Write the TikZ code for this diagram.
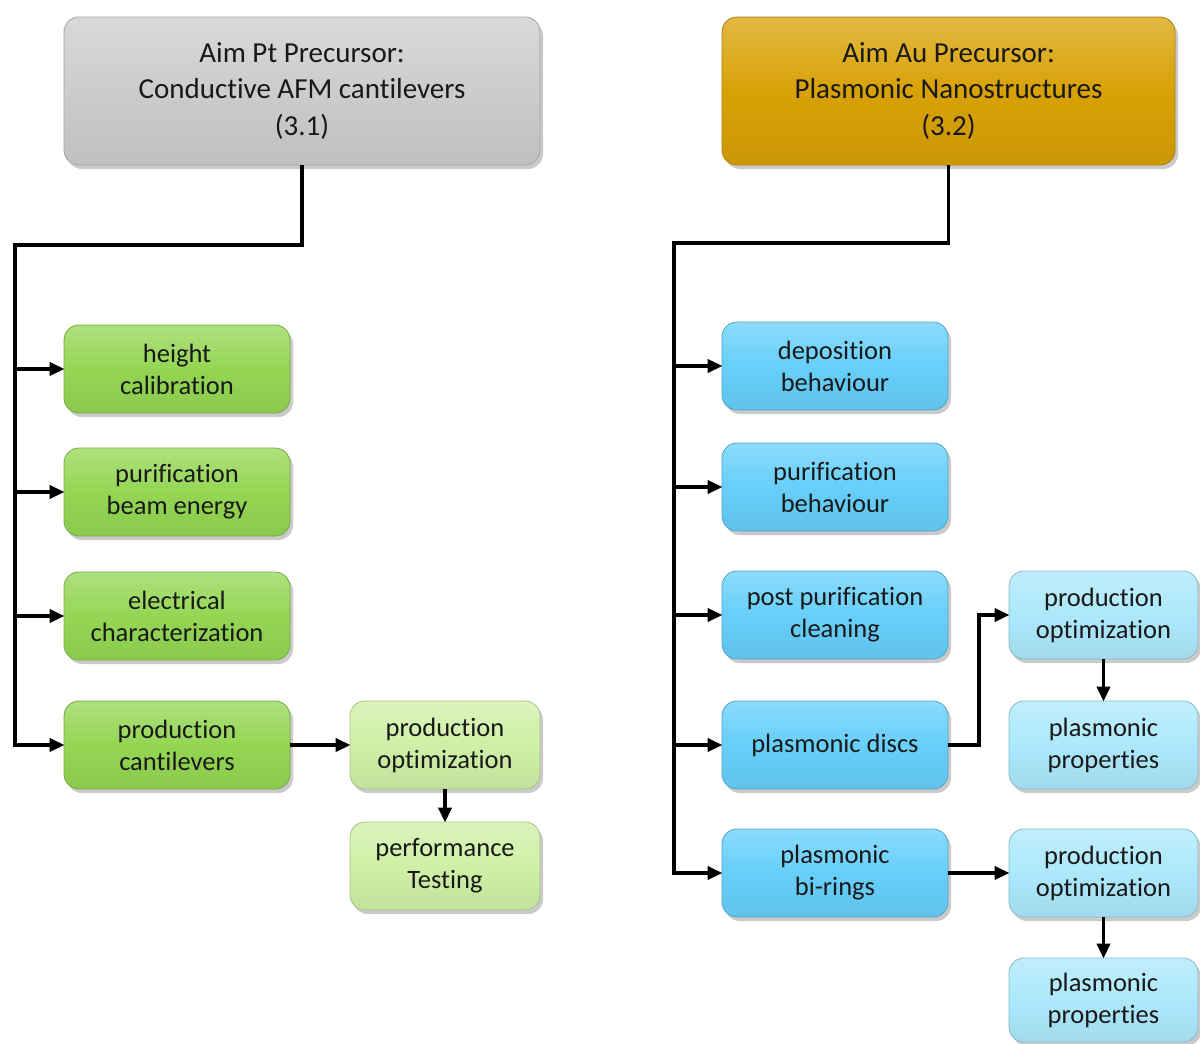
\documentclass[tikz,border=0pt]{standalone}
\usepackage{fontspec}
\setmainfont{Carlito}[Ligatures={NoCommon}]
\usetikzlibrary{arrows.meta,shadows}
\definecolor{cgray}{HTML}{CCCCCC}
\definecolor{cgold}{HTML}{D8A106}
\definecolor{cgreen}{HTML}{94D653}
\definecolor{clgreen}{HTML}{CFF0A6}
\definecolor{cblue}{HTML}{66CFFA}
\definecolor{clblue}{HTML}{ACE8FC}
\tikzset{
  box/.style={rounded corners=15pt, draw=#1!80!black, line width=0.8pt,
    top color=#1!75!white, bottom color=#1!94!black, middle color=#1,
    align=center, inner sep=0pt, text=black!90,
    drop shadow={shadow xshift=3pt, shadow yshift=-4pt, opacity=0.35, fill=black!60}},
  bigbox/.style={box=#1, minimum height=148pt, font=\fontsize{29}{36.5}\selectfont},
  smallbox/.style={box=#1, minimum height=88pt, font=\fontsize{26.5}{32}\selectfont},
  conn/.style={line width=3.6pt, draw=black},
  arr/.style={conn, -{Triangle[length=15pt,width=13pt]}, shorten >=-1pt}
}
\begin{document}
\begin{tikzpicture}[x=1pt,y=-1pt]
\useasboundingbox (0,0) rectangle (1200,1044);
% top boxes
\node[bigbox=cgray, minimum width=476pt] (tl) at (302,91) {Aim Pt Precursor:\\Conductive AFM cantilevers\\(3.1)};
\node[bigbox=cgold, minimum width=453pt] (tr) at (948.5,91) {Aim Au Precursor:\\Plasmonic Nanostructures\\(3.2)};
% left column
\node[smallbox=cgreen, minimum width=226pt] (g1) at (177,369) {height\\calibration};
\node[smallbox=cgreen, minimum width=226pt] (g2) at (177,492) {purification\\beam energy};
\node[smallbox=cgreen, minimum width=226pt] (g3) at (177,616) {electrical\\characterization};
\node[smallbox=cgreen, minimum width=226pt] (g4) at (177,745) {production\\cantilevers};
\node[smallbox=clgreen, minimum width=190pt] (lg1) at (445,745) {production\\optimization};
\node[smallbox=clgreen, minimum width=190pt] (lg2) at (445,866) {performance\\Testing};
% right column
\node[smallbox=cblue, minimum width=226pt] (b1) at (835,366) {deposition\\behaviour};
\node[smallbox=cblue, minimum width=226pt] (b2) at (835,487) {purification\\behaviour};
\node[smallbox=cblue, minimum width=226pt] (b3) at (835,615) {post purification\\cleaning};
\node[smallbox=cblue, minimum width=226pt] (b4) at (835,745) {plasmonic discs};
\node[smallbox=cblue, minimum width=226pt] (b5) at (835,873) {plasmonic\\bi-rings};
\node[smallbox=clblue, minimum width=189pt] (lb1) at (1103.5,615) {production\\optimization};
\node[smallbox=clblue, minimum width=189pt] (lb2) at (1103.5,745) {plasmonic\\properties};
\node[smallbox=clblue, minimum width=189pt] (lb3) at (1103.5,873) {production\\optimization};
\node[smallbox=clblue, minimum width=189pt, minimum height=84pt] (lb4) at (1103.5,1000) {plasmonic\\properties};
% left connectors
\coordinate (lbus) at (15,245);
\draw[arr] (tl.south) |- (lbus) |- (g4.west);
\draw[arr] (lbus |- g1.west) -- (g1.west);
\draw[arr] (lbus |- g2.west) -- (g2.west);
\draw[arr] (lbus |- g3.west) -- (g3.west);
\draw[arr] (g4.east) -- (lg1.west);
\draw[arr] (lg1.south) -- (lg2.north);
% right connectors
\coordinate (rbus) at (674,243);
\draw[arr] (tr.south) |- (rbus) |- (b5.west);
\draw[arr] (rbus |- b1.west) -- (b1.west);
\draw[arr] (rbus |- b2.west) -- (b2.west);
\draw[arr] (rbus |- b3.west) -- (b3.west);
\draw[arr] (rbus |- b4.west) -- (b4.west);
\coordinate (dj) at (979,745);
\draw[arr] (b4.east) -- (dj) |- (lb1.west);
\draw[arr] (lb1.south) -- (lb2.north);
\draw[arr] (b5.east) -- (lb3.west);
\draw[arr] (lb3.south) -- (lb4.north);
\end{tikzpicture}
\end{document}
